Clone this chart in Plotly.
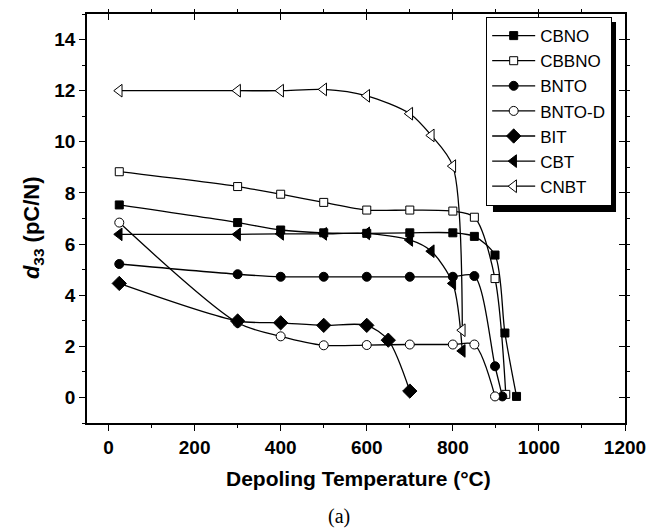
import plotly.graph_objects as go

# ---- data ----
cbno_x = [25, 300, 400, 500, 600, 700, 800, 850, 898, 921, 948]
cbno_y = [7.53, 6.84, 6.55, 6.44, 6.42, 6.44, 6.44, 6.3, 5.57, 2.52, 0.04]

cbbno_x = [25, 300, 400, 500, 600, 700, 800, 850, 898, 923]
cbbno_y = [8.83, 8.25, 7.95, 7.63, 7.33, 7.33, 7.29, 7.05, 4.65, 0.12]

bnto_x = [25, 300, 400, 500, 600, 700, 800, 850, 898, 915]
bnto_y = [5.22, 4.82, 4.72, 4.72, 4.72, 4.72, 4.72, 4.75, 1.22, 0.04]

bntod_x = [25, 300, 400, 500, 600, 700, 800, 850, 898]
bntod_y = [6.84, 2.92, 2.39, 2.04, 2.05, 2.07, 2.07, 2.07, 0.04]

bit_x = [25, 300, 400, 500, 600, 650, 700]
bit_y = [4.46, 2.99, 2.92, 2.82, 2.82, 2.24, 0.25]

cbt_x = [25, 300, 400, 500, 600, 700, 750, 800, 822]
cbt_y = [6.38, 6.38, 6.40, 6.40, 6.42, 6.16, 5.72, 4.46, 1.82]

cnbt_x = [25, 300, 400, 500, 600, 700, 750, 800, 822]
cnbt_y = [12.0, 12.0, 12.0, 12.05, 11.8, 11.1, 10.25, 9.05, 2.63]

series = [
    ("CBNO", cbno_x, cbno_y, "square", "black", 8),
    ("CBBNO", cbbno_x, cbbno_y, "square", "white", 8),
    ("BNTO", bnto_x, bnto_y, "circle", "black", 9),
    ("BNTO-D", bntod_x, bntod_y, "circle", "white", 9),
    ("BIT", bit_x, bit_y, "diamond", "black", 11),
    ("CBT", cbt_x, cbt_y, "triangle-left", "black", 11),
    ("CNBT", cnbt_x, cnbt_y, "triangle-left", "white", 11),
]

x_ticks = [0, 200, 400, 600, 800, 1000, 1200]
y_ticks = [0, 2, 4, 6, 8, 10, 12, 14]

fig = go.Figure()
for name, xs, ys, sym, fill, sz in series:
    fig.add_trace(go.Scatter(
        x=xs, y=ys, name=name, mode="lines+markers",
        line=dict(color="black", width=1.3, shape="spline", smoothing=0.8),
        marker=dict(symbol=sym, size=sz, color=fill,
                    line=dict(color="black", width=1)),
    ))

font_family = "Liberation Sans, Arial, sans-serif"
tickfont = dict(family=font_family, size=19, color="black", weight="bold")

common_x = dict(range=[-50, 1200], tickvals=x_ticks, showgrid=False,
                zeroline=False, showline=True, linecolor="black", linewidth=1.6,
                tickcolor="black", tickwidth=1.4, ticklen=6,
                minor=dict(dtick=100, tick0=0, ticklen=3, tickcolor="black",
                           tickwidth=1.2, showgrid=False))
common_y = dict(range=[-1, 15], tickvals=y_ticks, showgrid=False,
                zeroline=False, showline=True, linecolor="black", linewidth=1.6,
                tickcolor="black", tickwidth=1.4, ticklen=6,
                minor=dict(dtick=1, tick0=0, ticklen=3, tickcolor="black",
                           tickwidth=1.2, showgrid=False))

# the page body adds an 8px margin, so the figure is 8px smaller than the window
fig.update_layout(
    width=650, height=521,
    margin=dict(l=79, r=33, t=6, b=106),
    paper_bgcolor="white", plot_bgcolor="white",
    xaxis=dict(**common_x, ticks="outside", tickfont=tickfont),
    yaxis=dict(**common_y, ticks="outside", tickfont=tickfont),
    xaxis2=dict(**common_x, ticks="inside", overlaying="x", side="top",
                showticklabels=False, matches="x"),
    yaxis2=dict(**common_y, ticks="inside", overlaying="y", side="right",
                showticklabels=False, matches="y"),
    legend=dict(x=0.7416, y=0.993, xanchor="left", yanchor="top",
                bgcolor="white", bordercolor="black", borderwidth=1.2,
                font=dict(family=font_family, size=17, color="black"),
                itemwidth=43, tracegroupgap=0),
    showlegend=True,
)

# invisible trace to activate the mirrored axes
fig.add_trace(go.Scatter(x=[None], y=[None], xaxis="x2", yaxis="y2",
                         showlegend=False, hoverinfo="skip"))

# legend shadow
fig.add_shape(type="rect", xref="paper", yref="paper",
              x0=0.7546, x1=0.9833, y0=0.516, y1=0.9804,
              fillcolor="black", line=dict(width=0), layer="above")

fig.add_annotation(text="<b>Depoling Temperature (°C)</b>", xref="paper", yref="paper",
                   x=0.504, y=-0.1345, xanchor="center", yanchor="middle",
                   showarrow=False, font=dict(family=font_family, size=21, color="black"))
fig.add_annotation(text="<b><i>d</i><sub>33</sub> (pC/N)</b>", xref="paper", yref="paper",
                   x=-0.1, y=0.477, xanchor="center", yanchor="middle", textangle=-90,
                   showarrow=False, font=dict(family=font_family, size=22, color="black"))
fig.add_annotation(text="(a)", xref="paper", yref="paper",
                   x=0.468, y=-0.2298, xanchor="center", yanchor="middle",
                   showarrow=False, font=dict(family="Liberation Serif, Times New Roman, serif",
                                              size=20, color="black"))

fig.write_html("out.html")
